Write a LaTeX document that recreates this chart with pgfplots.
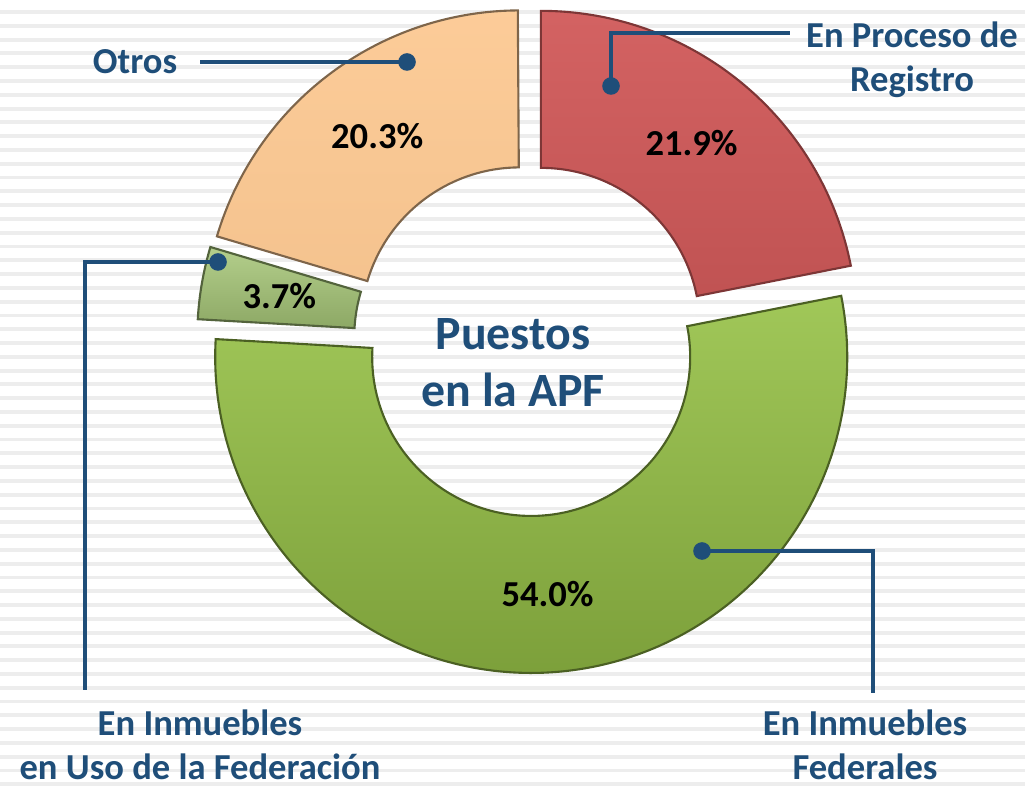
\documentclass[border=0pt]{standalone}
\usepackage{pgfplots}
\usepackage{pgfplotstable}
\pgfplotsset{compat=1.18}
\usepackage{fontspec}
\setmainfont{Carlito}

\definecolor{navy}{HTML}{1F4E79}
\definecolor{segred}{HTML}{D15A5A}
\definecolor{seggreen}{HTML}{96C146}
\definecolor{segsmall}{HTML}{A6C677}
\definecolor{segorange}{HTML}{FCC993}

\newcommand\labfont{\fontsize{10.4}{12.5}\selectfont\bfseries}

% share of each group (%)
\pgfplotstableread{
name      value
Registro  21.9
Federales 54.0
Uso       3.7
Otros     20.3
}\datatable

% donut geometry (axis units = pixels): centre, outer/inner radius, explode
\def\cx{530}\def\cy{445}\def\Ro{316}\def\Ri{159}\def\ex{17}

% #1 start angle, #2 end angle, #3 style, #4 value
\newcommand\segment[4]{%
  \path[#3] (axis cs:{\cx+\ex*cos((#1+#2)/2)+\Ro*cos(#1)},{\cy+\ex*sin((#1+#2)/2)+\Ro*sin(#1)})
    arc[start angle=#1,end angle=#2,radius=\Ro]
    -- (axis cs:{\cx+\ex*cos((#1+#2)/2)+\Ri*cos(#2)},{\cy+\ex*sin((#1+#2)/2)+\Ri*sin(#2)})
    arc[start angle=#2,end angle=#1,radius=\Ri] -- cycle;
  \node[font=\labfont,text=black] at
    (axis cs:{\cx+(\ex+(\Ro+\Ri)/2)*cos((#1+#2)/2)},{\cy+(\ex+(\Ro+\Ri)/2)*sin((#1+#2)/2)})
    {\pgfmathprintnumber[assume math mode=true,fixed,fixed zerofill,precision=1]{#4}\%};
}

\begin{document}
\begin{tikzpicture}
\pgfplotstablegetelem{0}{value}\of\datatable \let\vA\pgfplotsretval
\pgfplotstablegetelem{1}{value}\of\datatable \let\vB\pgfplotsretval
\pgfplotstablegetelem{2}{value}\of\datatable \let\vC\pgfplotsretval
\pgfplotstablegetelem{3}{value}\of\datatable \let\vD\pgfplotsretval
\pgfmathsetmacro\aA{90}
\pgfmathsetmacro\aB{\aA-3.6*\vA}
\pgfmathsetmacro\aC{\aB-3.6*\vB}
\pgfmathsetmacro\aD{\aC-3.6*\vC}
\pgfmathsetmacro\aE{\aD-3.6*\vD}
\begin{axis}[
  x=0.01cm,y=0.01cm,
  xmin=0,xmax=1025,ymin=0,ymax=785,
  disabledatascaling,clip=false,
  axis line style={draw=none},
  xtick=\empty,ytick={0.7,14.49,...,785},yticklabels={},
  major tick length=0pt,
  ymajorgrids,grid style={line width=1.1pt,color=black!7},
]
\segment{\aA}{\aB}{top color=segred!95!white,bottom color=segred!92!black,draw=segred!60!black,line width=0.6pt}{\vA}
\segment{\aB}{\aC}{top color=seggreen!90!white,bottom color=seggreen!82!black,draw=seggreen!50!black,line width=0.6pt}{\vB}
\segment{\aC}{\aD}{top color=segsmall!85!white,bottom color=segsmall!85!black,draw=segsmall!50!black,line width=0.6pt}{\vC}
\segment{\aD}{\aE}{top color=segorange!95!white,bottom color=segorange!97!black,draw=segorange!50!black,line width=0.6pt}{\vD}

% leader lines
\addplot[navy,line width=1.2pt] coordinates {(200,723) (407,723)};
\addplot[navy,line width=1.2pt] coordinates {(611,699) (611,752) (790,752)};
\addplot[navy,line width=1.2pt] coordinates {(218,523) (85,523) (85,95)};
\addplot[navy,line width=1.2pt] coordinates {(702,234) (873,234) (873,92)};
\addplot[only marks,mark=*,mark size=2.3pt,navy] coordinates {(407,723) (611,699) (218,523) (702,234)};

% labels
\node[font=\labfont,text=navy] at (axis cs:135,723) {Otros};
\node[font=\labfont,text=navy,align=center] at (axis cs:912,725) {En Proceso de\\Registro};
\node[font=\labfont,text=navy,align=center,inner sep=0pt] at (axis cs:200,40) {En Inmuebles\\en Uso de la Federación};
\node[font=\labfont,text=navy,align=center,inner sep=0pt] at (axis cs:865,40) {En Inmuebles\\Federales};
\node[font=\fontsize{13.6}{16.2}\selectfont\bfseries,text=navy,align=center] at (axis cs:513,422) {Puestos\\en la APF};
\end{axis}
\pgfresetboundingbox
\path (current axis.south west) rectangle (current axis.north east);
\end{tikzpicture}
\end{document}
